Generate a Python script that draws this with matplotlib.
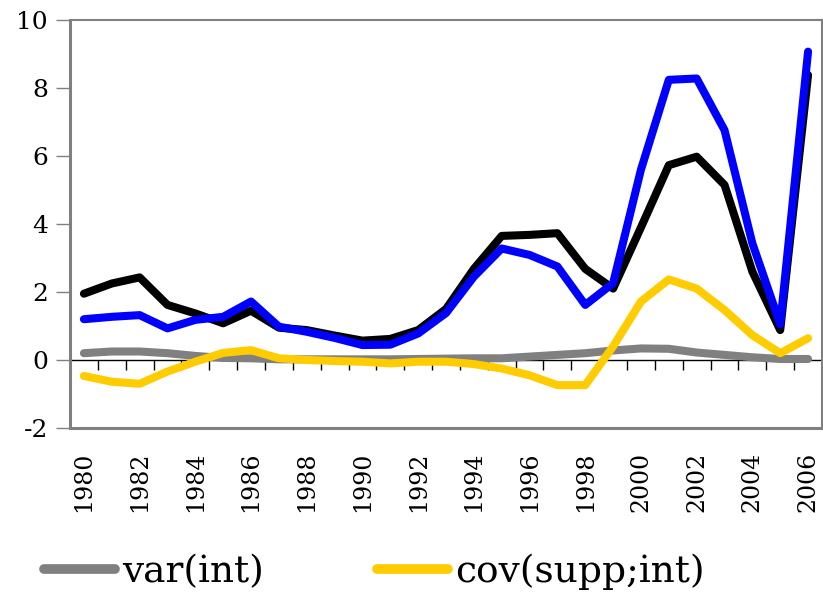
import matplotlib.pyplot as plt
import numpy as np

plt.rcParams['font.family'] = ['DejaVu Serif']

years = list(range(1980, 2007))
black_series = [1.95, 2.25, 2.43, 1.62, 1.37, 1.08, 1.45, 0.95, 0.88, 0.72, 0.57, 0.62, 0.88, 1.5,
                2.68, 3.65, 3.68, 3.73, 2.68, 2.1, 3.9, 5.73, 5.98, 5.15, 2.6, 0.88, 8.38]
blue_series = [1.2, 1.27, 1.32, 0.93, 1.18, 1.27, 1.72, 0.98, 0.83, 0.65, 0.44, 0.45, 0.78, 1.38,
               2.45, 3.28, 3.09, 2.75, 1.62, 2.26, 5.6, 8.24, 8.28, 6.76, 3.43, 1.05, 9.07]
var_int = [0.2, 0.25, 0.25, 0.2, 0.12, 0.06, 0.05, 0.02, 0.02, 0.02, 0.02, 0.02, 0.03, 0.04,
           0.05, 0.05, 0.1, 0.15, 0.2, 0.28, 0.34, 0.33, 0.22, 0.15, 0.08, 0.03, 0.03]
cov_supp_int = [-0.47, -0.64, -0.7, -0.34, -0.05, 0.21, 0.29, 0.05, 0.0, -0.03, -0.05, -0.1, -0.05, -0.05,
                -0.12, -0.25, -0.45, -0.74, -0.74, 0.4, 1.72, 2.37, 2.1, 1.47, 0.73, 0.2, 0.64]
y_ticks = [-2, 0, 2, 4, 6, 8, 10]

fig = plt.figure(figsize=(8.23, 5.95), dpi=100)
ax = fig.add_axes([70 / 823, 1 - 428 / 595, 752 / 823, 408 / 595])

x = np.arange(len(years))
lw = 5.8
ax.plot(x, black_series, color='black', lw=lw, solid_capstyle='round', solid_joinstyle='round')
ax.plot(x, blue_series, color='#0000FF', lw=lw, solid_capstyle='round', solid_joinstyle='round')
ax.plot(x, var_int, color='#808080', lw=lw, solid_capstyle='round', label='var(int)')
ax.plot(x, cov_supp_int, color='#FFCC00', lw=lw, solid_capstyle='round', label='cov(supp;int)')

ymin, ymax = -2, 10
ax.set_ylim(ymin, ymax)
ax.set_xlim(-0.5, len(years) - 0.5)
ax.set_yticks(y_ticks)
ax.set_yticklabels([str(v) for v in y_ticks], fontsize=18)
ax.tick_params(axis='y', direction='out', length=10, width=1, color='#808080', pad=6)

ax.set_xticks(x[::2])
ax.set_xticklabels([str(y) for y in years[::2]], rotation=90, fontsize=17)
ax.tick_params(axis='x', length=0, pad=17)

for s in ax.spines.values():
    s.set_color('#808080')
    s.set_linewidth(1.5)
ax.spines['left'].set_linewidth(2.2)
ax.spines['bottom'].set_linewidth(2.2)

# zero axis with category ticks
zero = ax.secondary_xaxis((0 - ymin) / (ymax - ymin))
zero.spines['bottom'].set_color('black')
zero.spines['bottom'].set_linewidth(1)
zero.set_xticks(np.arange(len(years) - 1) + 0.5)
zero.tick_params(axis='x', direction='out', length=7, width=1, color='black', labelbottom=False)

leg = fig.legend(loc='lower left', bbox_to_anchor=(0.012, -0.048), ncol=2, frameon=False,
                 fontsize=27, handlelength=1.9, handletextpad=0.2, columnspacing=3.0)
for h in leg.get_lines():
    h.set_linewidth(7)

fig.savefig('out.png', dpi=100)
